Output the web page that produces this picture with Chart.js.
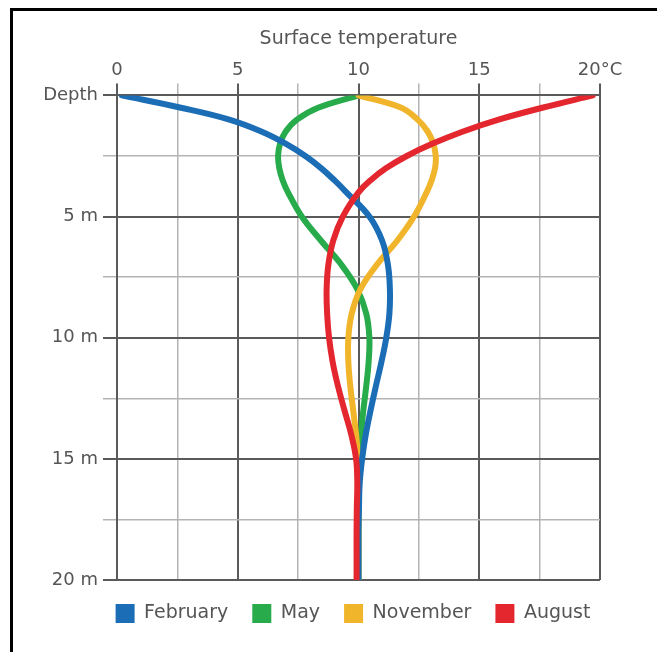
<!DOCTYPE html>
<html>
<head>
<meta charset="utf-8">
<script src="https://cdn.jsdelivr.net/npm/chart.js@4.4.1/dist/chart.umd.min.js"></script>
<style>
  html, body { margin: 0; padding: 0; background: #fff; overflow: hidden; width: 657px; height: 652px; }
  #frame { position: absolute; left: 10px; top: 8px; width: 700px; height: 700px;
           border-left: 3px solid #000; border-top: 3px solid #000; }
  #wrap { position: absolute; left: 0; top: 0; width: 700px; height: 652px; }
</style>
</head>
<body>
<div id="frame"></div>
<div id="wrap"><canvas id="c"></canvas></div>
<script>
// Depth below surface (m)
const depths = [0, 0.5, 1, 1.5, 2, 2.5, 3, 3.5, 4, 5, 6, 7, 8, 9, 10, 11, 12, 13, 14, 15, 16, 17, 18, 19, 20];
// Water temperature (°C) at each depth
const february = [0.2, 2.6, 4.65, 6.0, 7.0, 7.8, 8.45, 9.0, 9.5, 10.45, 10.98, 11.22, 11.3, 11.28, 11.15, 10.95, 10.72, 10.5, 10.3, 10.15, 10.05, 10.02, 10.0, 10.0, 10.0];
const may      = [10.0, 8.35, 7.45, 6.98, 6.75, 6.67, 6.72, 6.86, 7.08, 7.65, 8.45, 9.3, 9.95, 10.32, 10.45, 10.42, 10.32, 10.2, 10.1, 10.03, 10.0, 10.0, 10.0, 10.0, 10.0];
const november = [10.0, 11.75, 12.45, 12.87, 13.1, 13.2, 13.17, 13.03, 12.82, 12.3, 11.6, 10.75, 10.08, 9.72, 9.58, 9.58, 9.66, 9.78, 9.9, 9.98, 10.0, 10.0, 10.0, 10.0, 10.0];
const august   = [19.7, 17.65, 15.8, 14.3, 13.05, 12.0, 11.15, 10.5, 10.0, 9.35, 8.95, 8.75, 8.68, 8.7, 8.78, 8.93, 9.15, 9.42, 9.7, 9.9, 9.95, 9.93, 9.92, 9.92, 9.92];

const seriesNames = ['February', 'May', 'November', 'August'];
const tempTicks = [0, 5, 10, 15, 20];
const tempTickLabels = ['0', '5', '10', '15', '20°C'];
const depthTicks = [0, 5, 10, 15, 20];
const depthTickLabels = ['Depth', '5 m', '10 m', '15 m', '20 m'];

const colors = ['#1b6db6', '#27ab4b', '#f0b52b', '#e4262f'];
const drawOrder = [2, 4, 3, 1];
const seriesValues = [february, may, november, august];

const MAJOR = '#5a5a5a', MINOR = '#b4b4b4', TEXT = '#555555';
const isMajor = v => Math.abs(v % 5) < 1e-9;

const datasets = seriesValues.map((vals, i) => ({
  label: seriesNames[i],
  data: vals.map((t, k) => ({ x: t, y: depths[k] })),
  borderColor: colors[i],
  backgroundColor: colors[i],
  borderWidth: 6,
  borderCapStyle: 'round',
  borderJoinStyle: 'round',
  tension: 0.4,
  fill: false,
  pointRadius: 0,
  pointHoverRadius: 0,
  order: drawOrder[i]
}));

Chart.defaults.font.family = '"DejaVu Sans", sans-serif';
Chart.defaults.font.size = 18;
Chart.defaults.color = TEXT;

const gridOpts = {
  color: ctx => (ctx.tick && isMajor(ctx.tick.value)) ? MAJOR : MINOR,
  tickColor: ctx => (ctx.tick && isMajor(ctx.tick.value)) ? MAJOR : MINOR,
  lineWidth: ctx => (ctx.tick && isMajor(ctx.tick.value)) ? 2 : 1.5,
  tickWidth: ctx => (ctx.tick && isMajor(ctx.tick.value)) ? 2 : 1.5,
  drawTicks: true,
  tickLength: 12
};

new Chart(document.getElementById('c'), {
  type: 'line',
  data: { datasets },
  options: {
    indexAxis: 'y',
    responsive: true,
    maintainAspectRatio: false,
    animation: false,
    devicePixelRatio: 1,
    layout: { padding: { left: 35, right: 29, top: 28, bottom: 19 } },
    plugins: {
      legend: {
        position: 'bottom',
        labels: {
          boxWidth: 19, boxHeight: 19, padding: 24,
          color: TEXT,
          font: { size: 19 },
          sort: (a, b) => a.datasetIndex - b.datasetIndex,
          generateLabels: chart => Chart.defaults.plugins.legend.labels.generateLabels(chart)
            .map(item => Object.assign(item, { lineWidth: 0, strokeStyle: item.fillStyle }))
        }
      },
      tooltip: { enabled: false }
    },
    scales: {
      x: {
        type: 'linear', position: 'top', min: 0, max: 20,
        grid: gridOpts,
        border: { display: true, color: MAJOR, width: 2 },
        ticks: {
          stepSize: 2.5, autoSkip: false, maxRotation: 0, padding: 2,
          color: TEXT,
          callback: v => { const i = tempTicks.indexOf(v); return i >= 0 ? tempTickLabels[i] : ''; }
        },
        title: { display: true, text: 'Surface temperature', color: TEXT,
                 font: { size: 19 }, padding: { top: 0, bottom: 7 } },
        afterFit: s => { s.paddingRight = 100; }
      },
      y: {
        type: 'linear', position: 'left', min: 0, max: 20, reverse: true,
        grid: Object.assign({}, gridOpts, { tickLength: 14 }),
        border: { display: true, color: MAJOR, width: 2 },
        ticks: {
          stepSize: 2.5, autoSkip: false, padding: 5,
          color: TEXT,
          callback: v => { const i = depthTicks.indexOf(v); return i >= 0 ? depthTickLabels[i] : ''; }
        },
        afterFit: s => { s.width = 82; }
      }
    }
  }
});
</script>
</body>
</html>
